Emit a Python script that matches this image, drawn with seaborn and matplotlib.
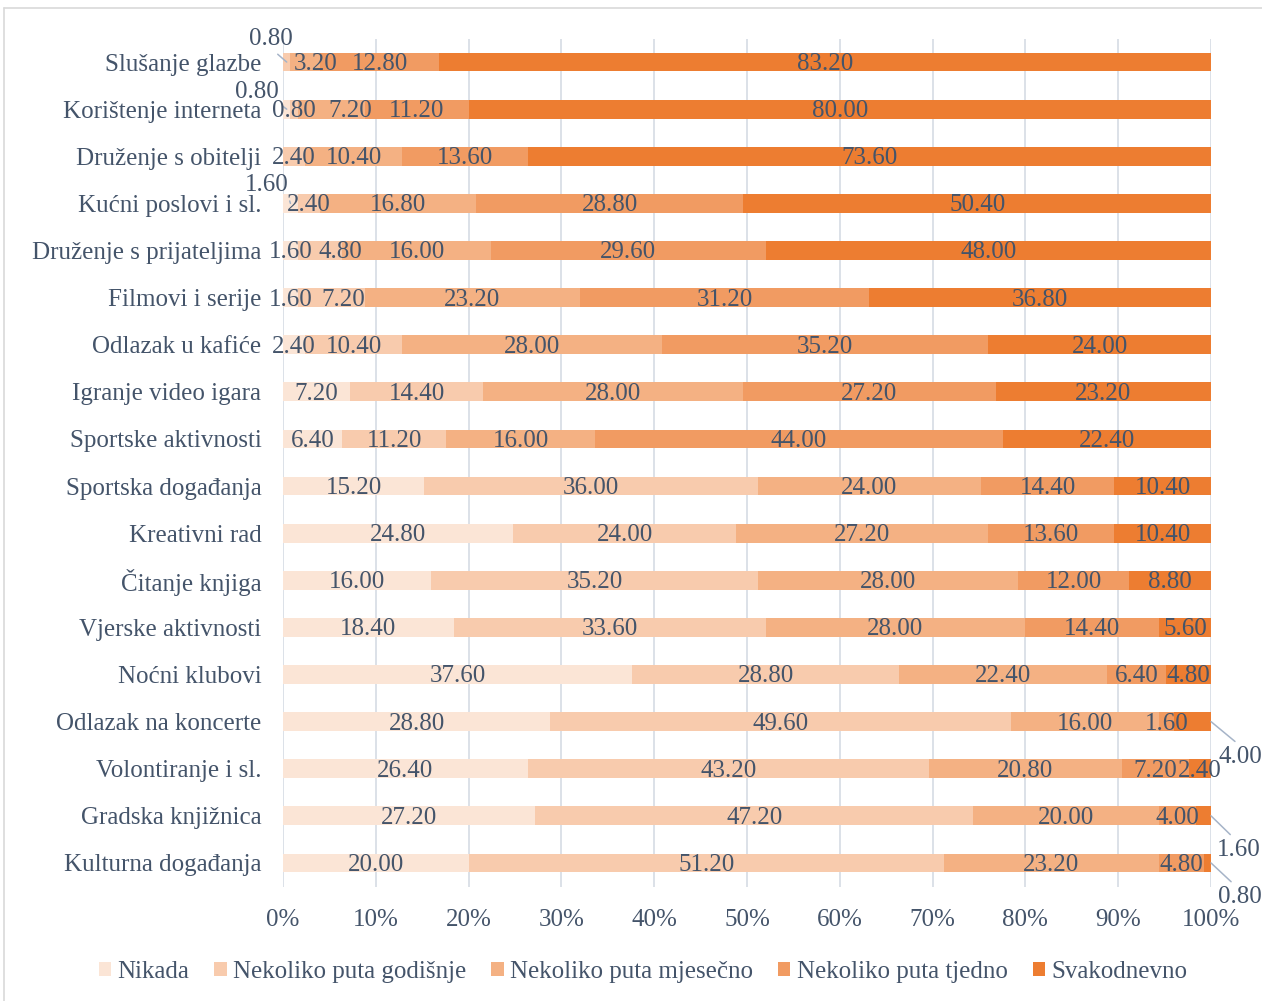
import matplotlib
matplotlib.use("Agg")
import matplotlib.pyplot as plt
from matplotlib.patches import Patch
from matplotlib.lines import Line2D
import seaborn as sns
import pandas as pd
import numpy as np

categories = [
    "Slušanje glazbe", "Korištenje interneta", "Druženje s obitelji",
    "Kućni poslovi i sl.", "Druženje s prijateljima", "Filmovi i serije",
    "Odlazak u kafiće", "Igranje video igara", "Sportske aktivnosti",
    "Sportska događanja", "Kreativni rad", "Čitanje knjiga",
    "Vjerske aktivnosti", "Noćni klubovi", "Odlazak na koncerte",
    "Volontiranje i sl.", "Gradska knjižnica", "Kulturna događanja",
]
series_names = ["Nikada", "Nekoliko puta godišnje", "Nekoliko puta mjesečno",
                "Nekoliko puta tjedno", "Svakodnevno"]
nikada = [0.00, 0.80, 0.00, 1.60, 1.60, 1.60, 2.40, 7.20, 6.40, 15.20, 24.80,
          16.00, 18.40, 37.60, 28.80, 26.40, 27.20, 20.00]
godisnje = [0.80, 0.80, 2.40, 2.40, 4.80, 7.20, 10.40, 14.40, 11.20, 36.00,
            24.00, 35.20, 33.60, 28.80, 49.60, 43.20, 47.20, 51.20]
mjesecno = [3.20, 7.20, 10.40, 16.80, 16.00, 23.20, 28.00, 28.00, 16.00, 24.00,
            27.20, 28.00, 28.00, 22.40, 16.00, 20.80, 20.00, 23.20]
tjedno = [12.80, 11.20, 13.60, 28.80, 29.60, 31.20, 35.20, 27.20, 44.00, 14.40,
          13.60, 12.00, 14.40, 6.40, 1.60, 7.20, 4.00, 4.80]
svakodnevno = [83.20, 80.00, 73.60, 50.40, 48.00, 36.80, 24.00, 23.20, 22.40,
               10.40, 10.40, 8.80, 5.60, 4.80, 4.00, 2.40, 1.60, 0.80]
xticks = [0, 10, 20, 30, 40, 50, 60, 70, 80, 90, 100]
xticklabels = [f"{t}%" for t in xticks]

colors = ["#FBE5D6", "#F8CBAD", "#F4B183", "#F19B62", "#ED7D31"]
text_color = "#44546A"
grid_color = "#D9DEE6"
leader_color = "#A6B4C8"

sns.set_theme(style="white")
plt.rcParams["font.family"] = ["Liberation Serif", "DejaVu Serif"]
FS = 18

values = np.array([nikada, godisnje, mjesecno, tjedno, svakodnevno])
cum = np.cumsum(values, axis=0)

fig = plt.figure(figsize=(12.62, 10.01), dpi=100)
ax = fig.add_axes([283 / 1262, 1 - 886.5 / 1001, 928 / 1262, 848 / 1001])

# stacked bars: draw cumulative totals from the largest down
for k in range(4, -1, -1):
    df = pd.DataFrame({"cat": categories, "val": cum[k]})
    sns.barplot(data=df, x="val", y="cat", orient="h", color=colors[k],
                saturation=1, width=0.4, linewidth=0, errorbar=None, ax=ax,
                zorder=2)

ax.set_xlim(0, 100)
ax.set_ylim(len(categories) - 0.5, -0.5)
ax.set_xticks(xticks)
ax.set_xticklabels(xticklabels)
ax.set_xlabel("")
ax.set_ylabel("")
for s in ax.spines.values():
    s.set_visible(False)
ax.xaxis.grid(True, color=grid_color, linewidth=1.3, zorder=0)
ax.yaxis.grid(False)
ax.set_axisbelow(True)
ax.tick_params(axis="y", length=0, pad=15.5, labelsize=FS, labelcolor=text_color)
ax.tick_params(axis="x", length=0, pad=16, labelsize=FS, labelcolor=text_color)

# label offsets in pixels (dx, dy; dy positive = down) for moved labels
px = 0.72
base_dy = 2
shift = {(0, 2): (10, 0), (1, 2): (19, 0), (4, 1): (20, 0), (5, 1): (12, 0)}
leaders = {
    (0, 1): ((-16, -25), (0.55, 0)),
    (1, 0): ((-30, -19), (1, 0)),
    (3, 0): ((-24, -20), (1, 0)),
    (14, 4): ((29, 33), (0.5, 1)),
    (16, 4): ((28, 32), (0.4, 1)),
    (17, 4): ((29, 32), (0.4, 1)),
}

for i in range(len(categories)):
    for k in range(5):
        v = values[k, i]
        if v <= 0:
            continue
        left = cum[k, i] - v
        xc = left + v / 2
        label = f"{v:.2f}"
        if (i, k) in leaders:
            (dx, dy), rel = leaders[(i, k)]
            xy = (100, i) if k == 4 else (xc, i)
            ax.annotate(label, xy=xy, xytext=(dx * px, -(dy + base_dy) * px),
                        textcoords="offset points", ha="center",
                        va="center", fontsize=FS, color=text_color,
                        annotation_clip=False, zorder=5,
                        arrowprops=dict(arrowstyle="-", color=leader_color,
                                        lw=1.1, shrinkA=1, shrinkB=0,
                                        relpos=rel))
        else:
            dx, dy = shift.get((i, k), (0, 0))
            ax.annotate(label, xy=(xc, i), xytext=(dx * px, -(dy + base_dy) * px),
                        textcoords="offset points", ha="center",
                        va="center", fontsize=FS, color=text_color,
                        annotation_clip=False, zorder=5)

handles = [Patch(facecolor=c, edgecolor="none", label=n)
           for c, n in zip(colors, series_names)]
fig.legend(handles=handles, loc="center", ncol=5,
           bbox_to_anchor=(643 / 1262, 1 - 972 / 1001), frameon=False,
           fontsize=FS, labelcolor=text_color, handlelength=0.5,
           handleheight=0.5, handletextpad=0.25, columnspacing=1.0,
           borderaxespad=0)

# chart border (left and top visible)
fig.add_artist(Line2D([4 / 1262, 4 / 1262], [0, 1 - 8 / 1001],
                      color="#D9D9D9", lw=1.2))
fig.add_artist(Line2D([4 / 1262, 1], [1 - 8 / 1001, 1 - 8 / 1001],
                      color="#D9D9D9", lw=1.2))

fig.savefig("out.png", dpi=100, facecolor="white")
